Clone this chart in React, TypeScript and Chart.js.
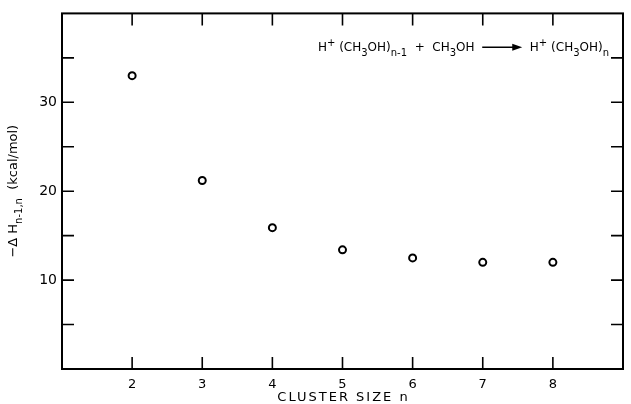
import React, { useEffect, useRef } from "react";
import { Chart, registerables } from "chart.js";

Chart.register(...registerables);

const clusterSizes = [2, 3, 4, 5, 6, 7, 8];
const enthalpies = [33.0, 21.2, 15.9, 13.4, 12.5, 12.0, 12.0];
const yLabeledTicks = [10, 20, 30];
const xLabeledTicks = [2, 3, 4, 5, 6, 7, 8];
const xTitle = "CLUSTER SIZE n";

const FONT = '"DejaVu Sans", sans-serif';

type Seg = { t: string; sub?: boolean; sup?: boolean; arrow?: boolean };

const reactionSegs: Seg[] = [
  { t: "H" },
  { t: "+", sup: true },
  { t: " (CH" },
  { t: "3", sub: true },
  { t: "OH)" },
  { t: "n-1", sub: true },
  { t: "  +  CH" },
  { t: "3", sub: true },
  { t: "OH  " },
  { t: "", arrow: true },
  { t: "  H" },
  { t: "+", sup: true },
  { t: " (CH" },
  { t: "3", sub: true },
  { t: "OH)" },
  { t: "n", sub: true },
];

const yTitleSegs: Seg[] = [
  { t: "−Δ H" },
  { t: "n-1,n", sub: true },
  { t: "  (kcal/mol)" },
];

function segWidth(ctx: CanvasRenderingContext2D, s: Seg, size: number) {
  if (s.arrow) return 40;
  ctx.font = `${s.sub || s.sup ? Math.round(size * 0.8) : size}px ${FONT}`;
  return ctx.measureText(s.t).width;
}

function drawSegs(ctx: CanvasRenderingContext2D, segs: Seg[], x: number, y: number, size: number) {
  let cx = x;
  for (const s of segs) {
    const w = segWidth(ctx, s, size);
    if (s.arrow) {
      ctx.save();
      ctx.strokeStyle = "#000";
      ctx.fillStyle = "#000";
      ctx.lineWidth = 1.5;
      const ay = y - size * 0.35;
      ctx.beginPath();
      ctx.moveTo(cx, ay);
      ctx.lineTo(cx + w - 8, ay);
      ctx.stroke();
      ctx.beginPath();
      ctx.moveTo(cx + w, ay);
      ctx.lineTo(cx + w - 10, ay - 3.5);
      ctx.lineTo(cx + w - 10, ay + 3.5);
      ctx.closePath();
      ctx.fill();
      ctx.restore();
    } else {
      const fs = s.sub || s.sup ? Math.round(size * 0.8) : size;
      ctx.font = `${fs}px ${FONT}`;
      ctx.fillStyle = "#000";
      const dy = s.sub ? size * 0.4 : s.sup ? -size * 0.45 : 0;
      ctx.fillText(s.t, cx, y + dy);
    }
    cx += w;
  }
  return cx - x;
}

const framePlugin = {
  id: "frameTicks",
  afterDraw(chart: any) {
    const ctx: CanvasRenderingContext2D = chart.ctx;
    const { left, right, top, bottom } = chart.chartArea;
    const xs = chart.scales.x;
    const ys = chart.scales.y;
    ctx.save();
    ctx.strokeStyle = "#000";
    ctx.lineWidth = 2;
    ctx.strokeRect(left, top, right - left, bottom - top);
    ctx.lineWidth = 1.6;
    const tl = 12;
    xs.ticks.forEach((t: any) => {
      if (t.value <= xs.min || t.value >= xs.max) return;
      const px = xs.getPixelForValue(t.value);
      ctx.beginPath();
      ctx.moveTo(px, bottom);
      ctx.lineTo(px, bottom - tl);
      ctx.moveTo(px, top);
      ctx.lineTo(px, top + tl);
      ctx.stroke();
    });
    ys.ticks.forEach((t: any) => {
      if (t.value <= ys.min || t.value >= ys.max) return;
      const py = ys.getPixelForValue(t.value);
      ctx.beginPath();
      ctx.moveTo(left, py);
      ctx.lineTo(left + tl, py);
      ctx.moveTo(right, py);
      ctx.lineTo(right - tl, py);
      ctx.stroke();
    });

    // reaction annotation
    ctx.textBaseline = "alphabetic";
    ctx.textAlign = "left";
    const size = 12;
    let total = 0;
    for (const s of reactionSegs) total += segWidth(ctx, s, size);
    drawSegs(ctx, reactionSegs, right - 14 - total, top + 38, size);

    // x title with letter spacing
    ctx.save();
    ctx.font = `13px ${FONT}`;
    (ctx as any).letterSpacing = "2px";
    ctx.textAlign = "center";
    ctx.fillStyle = "#000";
    ctx.fillText(xTitle, (left + right) / 2 + 1, 401);
    ctx.restore();

    // y title
    ctx.save();
    let tw = 0;
    for (const s of yTitleSegs) tw += segWidth(ctx, s, 13);
    ctx.translate(17, (top + bottom) / 2);
    ctx.rotate(-Math.PI / 2);
    drawSegs(ctx, yTitleSegs, -tw / 2, 0, 13);
    ctx.restore();

    ctx.restore();
  },
};

export default function App() {
  const ref = useRef<HTMLCanvasElement | null>(null);
  useEffect(() => {
    document.body.style.margin = "0";
    const canvas = ref.current!;
    const chart = new Chart(canvas, {
      type: "scatter",
      data: {
        datasets: [
          {
            data: clusterSizes.map((n, i) => ({ x: n, y: enthalpies[i] })),
            showLine: false,
            pointStyle: "circle",
            pointRadius: 3.5,
            pointBorderWidth: 2,
            pointBackgroundColor: "#fff",
            pointBorderColor: "#000",
          },
        ],
      },
      options: {
        responsive: false,
        animation: false,
        layout: { padding: { top: 11, right: 5, left: 0, bottom: 0 } },
        plugins: { legend: { display: false }, tooltip: { enabled: false } },
        scales: {
          x: {
            type: "linear",
            min: 1,
            max: 9,
            grid: { display: false, drawTicks: false },
            border: { display: false },
            afterFit: (s: any) => {
              s.height = 35;
            },
            ticks: {
              stepSize: 1,
              padding: 8,
              color: "#000",
              font: { family: FONT, size: 13 },
              callback: (v: any) => (xLabeledTicks.includes(Number(v)) ? String(v) : ""),
            },
          },
          y: {
            type: "linear",
            min: 0,
            max: 40,
            grid: { display: false, drawTicks: false },
            border: { display: false },
            afterFit: (s: any) => {
              s.width = 62;
            },
            ticks: {
              stepSize: 5,
              padding: 5,
              color: "#000",
              font: { family: FONT, size: 14 },
              callback: (v: any) => (yLabeledTicks.includes(Number(v)) ? String(v) : ""),
            },
          },
        },
      },
      plugins: [framePlugin],
    });
    return () => chart.destroy();
  }, []);
  return (
    <div style={{ width: 631, height: 404 }}>
      <canvas ref={ref} width={631} height={404} />
    </div>
  );
}
